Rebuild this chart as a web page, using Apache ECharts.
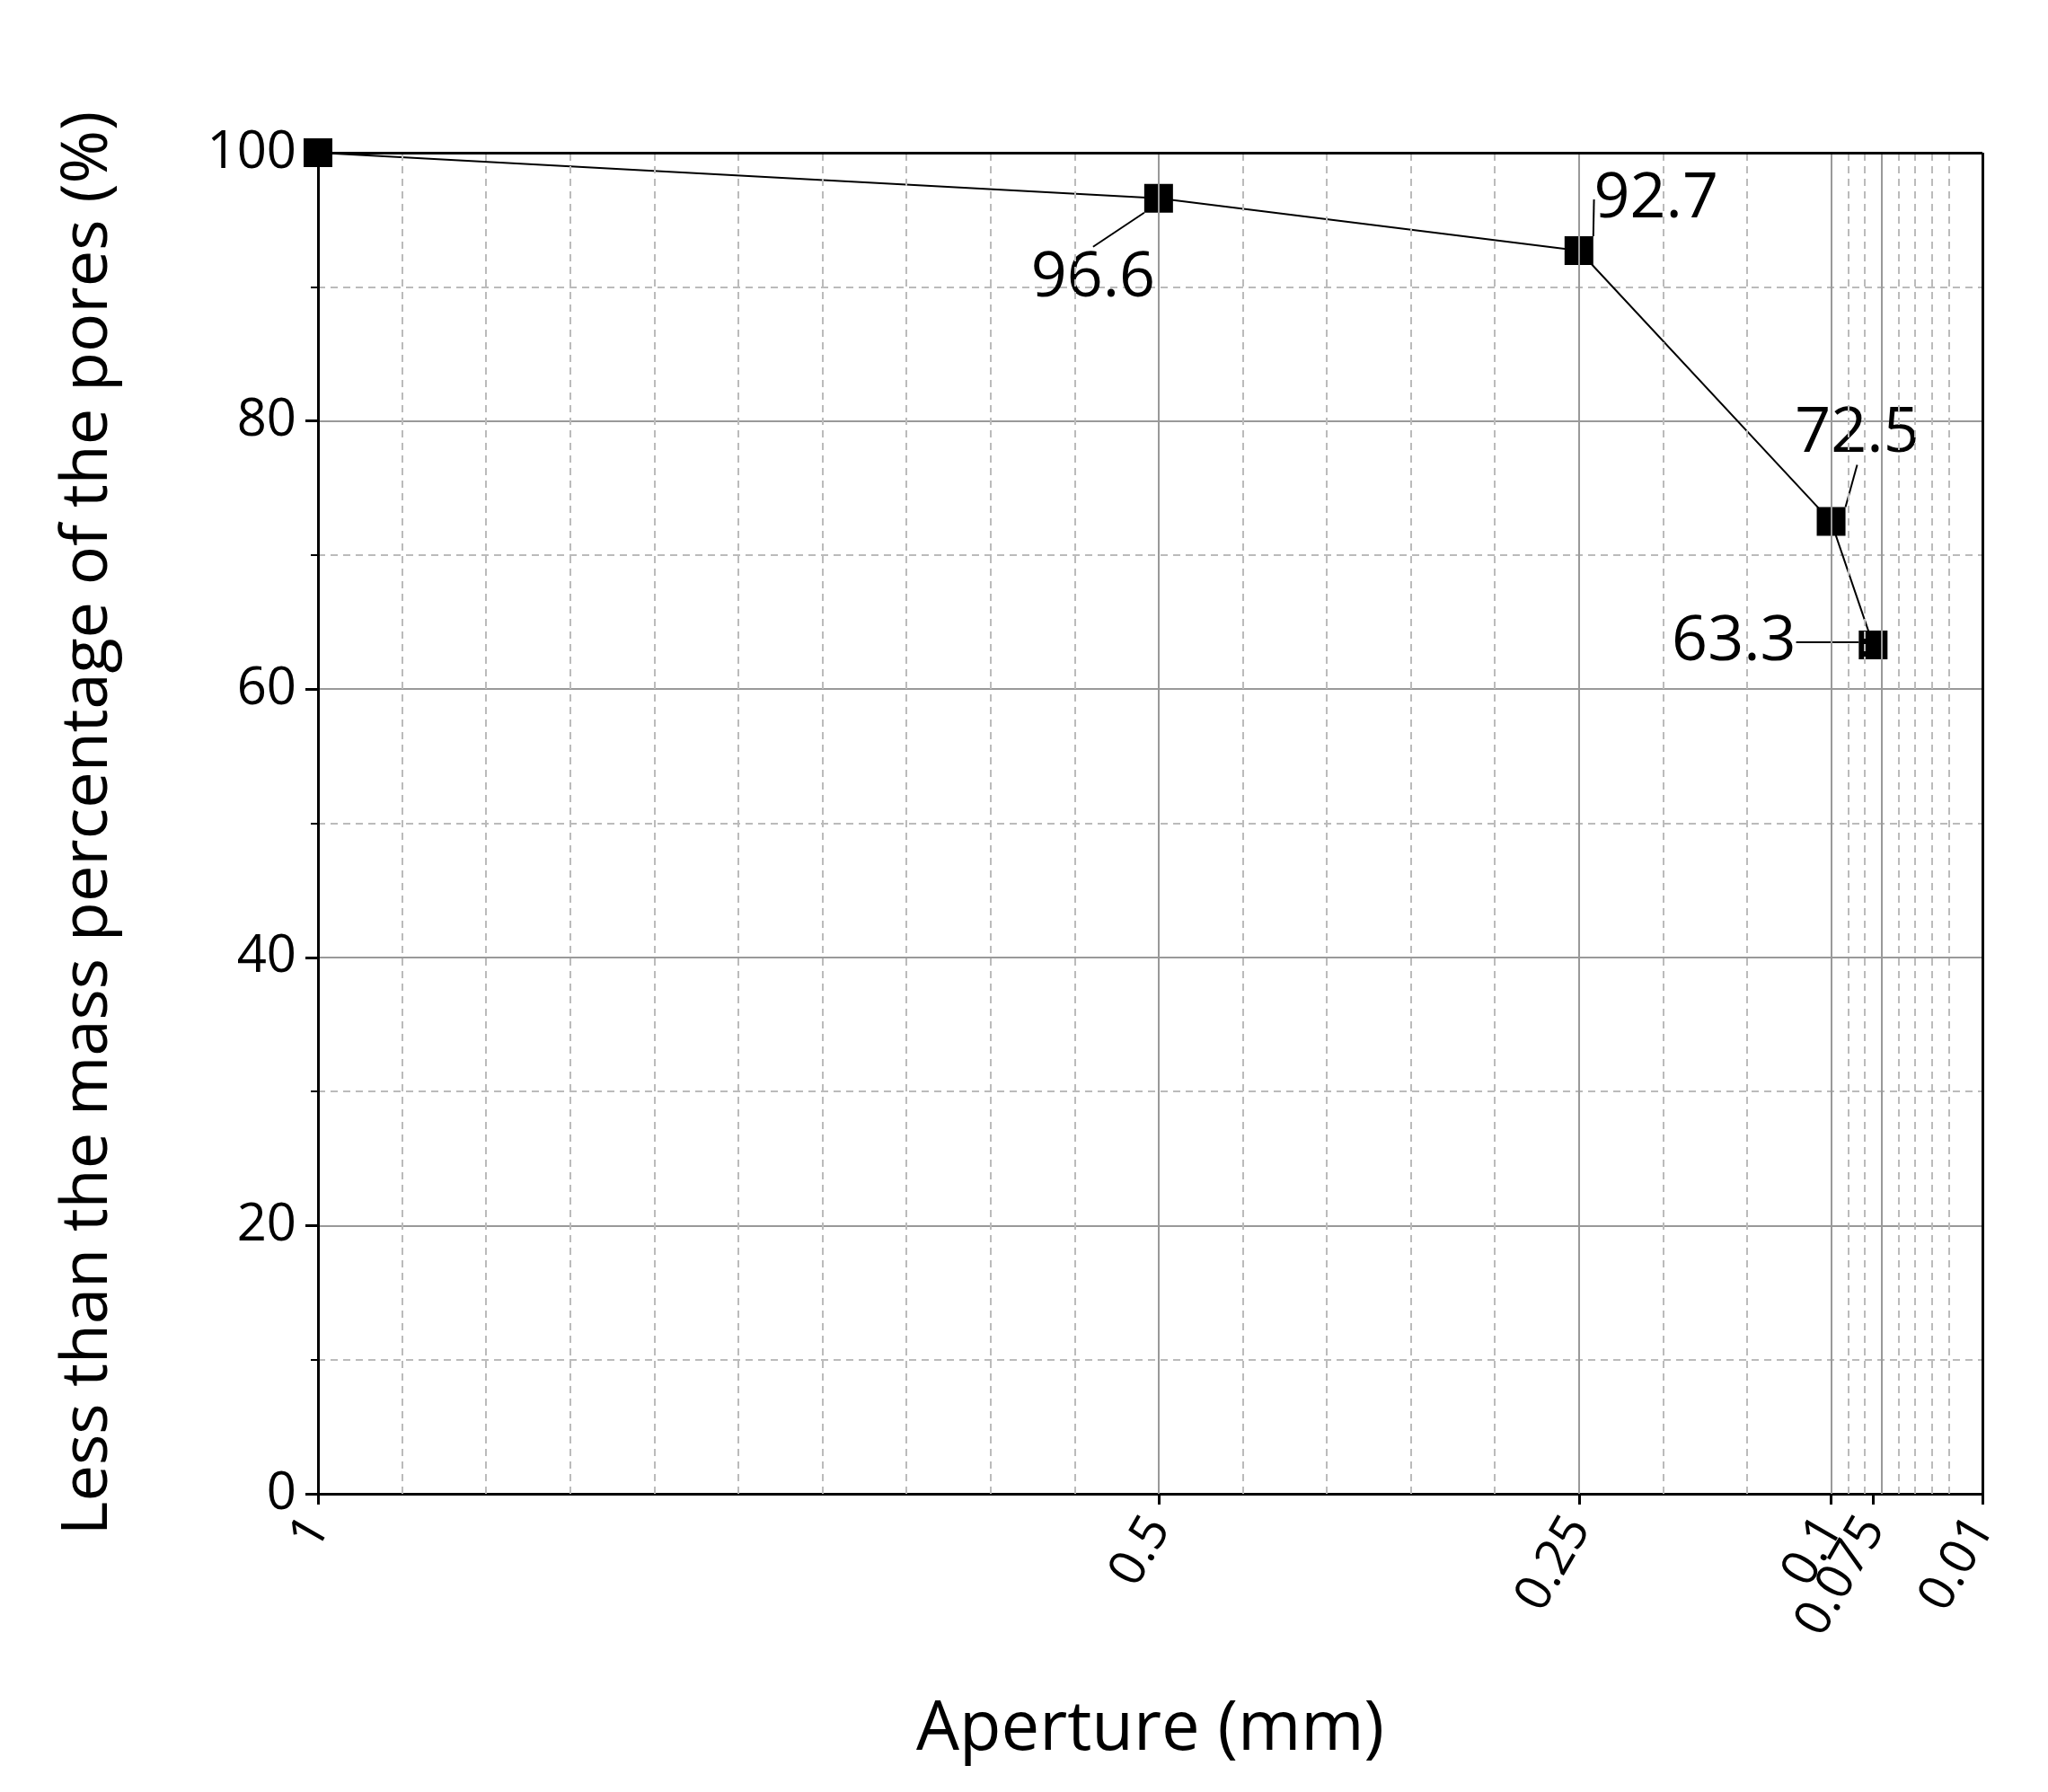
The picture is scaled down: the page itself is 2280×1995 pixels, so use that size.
<!DOCTYPE html>
<html><head><meta charset="utf-8">
<script src="https://cdn.jsdelivr.net/npm/echarts@6/dist/echarts.min.js"></script>
<style>html,body{margin:0;padding:0;background:#fff}#c{width:2280px;height:1995px}</style>
</head><body><div id="c"></div>
<script>
const apertures = [1, 0.5, 0.25, 0.1, 0.075];
const percents = [100, 96.6, 92.7, 72.5, 63.3];
const xTickLabels = [1, 0.5, 0.25, 0.1, 0.075, 0.01];
const xMinorGrid = [0.95,0.9,0.85,0.8,0.75,0.7,0.65,0.6,0.55,0.45,0.4,0.35,0.3,0.2,0.15,0.095,0.09,0.085,0.08,0.0625,0.05,0.0375,0.025];
const labelOffsets = [null, [-73, 89], [86, -57], [29, -98], [-155, -3]];

const chart = echarts.init(document.getElementById('c'));
const font = 'Open Sans';
chart.setOption({
  animation: false,
  grid: {left: 354, right: 73, top: 170, bottom: 332},
  xAxis: {
    type: 'value', inverse: true, min: 0.01, max: 1,
    name: 'Aperture (mm)', nameLocation: 'middle', nameGap: 225,
    nameTextStyle: {fontSize: 76, fontFamily: font, color: '#000'},
    axisLine: {show: true, lineStyle: {color: '#000', width: 3}},
    axisTick: {show: true, customValues: xTickLabels, length: 12, inside: false, lineStyle: {color: '#000', width: 3}},
    axisLabel: {customValues: xTickLabels, rotate: 60, fontSize: 56, fontFamily: font, color: '#000', margin: 30,
      formatter: v => String(v)},
    splitLine: {show: false}
  },
  yAxis: {
    type: 'value', min: 0, max: 100, interval: 20,
    name: 'Less than the mass percentage of the pores (%)', nameLocation: 'middle', nameGap: 220,
    nameTextStyle: {fontSize: 72, fontFamily: font, color: '#000'},
    axisLine: {show: true, lineStyle: {color: '#000', width: 3}},
    axisTick: {show: true, length: 14, lineStyle: {color: '#000', width: 3}},
    minorTick: {show: true, splitNumber: 2, length: 8, lineStyle: {color: '#000', width: 2}},
    axisLabel: {fontSize: 58, fontFamily: font, color: '#000', margin: 24},
    splitLine: {show: true, lineStyle: {color: '#999', width: 2}},
    minorSplitLine: {show: true, lineStyle: {color: '#bbb', width: 2, type: [8, 6]}}
  },
  series: [{
    type: 'line',
    data: apertures.map((a, i) => [a, percents[i]]),
    symbol: 'rect', symbolSize: 32,
    itemStyle: {color: '#000'},
    lineStyle: {color: '#000', width: 2},
    label: {show: true, position: 'inside', fontSize: 70, fontFamily: font, color: '#000',
      formatter: p => p.dataIndex === 0 ? '' : String(p.value[1])},
    labelLine: {show: true, lineStyle: {color: '#000', width: 2}},
    labelLayout: p => {
      const o = labelOffsets[p.dataIndex];
      return o ? {dx: o[0], dy: o[1]} : {};
    },
    markLine: {
      silent: true, symbol: 'none', label: {show: false},
      data: [
        ...xMinorGrid.map(v => ({xAxis: v, lineStyle: {color: '#bbb', width: 2, type: [8, 6]}})),
        ...xTickLabels.slice(1, 5).map(v => ({xAxis: v, lineStyle: {color: '#999', width: 2, type: 'solid'}})),
        {xAxis: 0.01, lineStyle: {color: '#000', width: 3, type: 'solid'}},
        {yAxis: 100, lineStyle: {color: '#000', width: 3, type: 'solid'}}
      ]
    }
  }]
});
</script></body></html>
